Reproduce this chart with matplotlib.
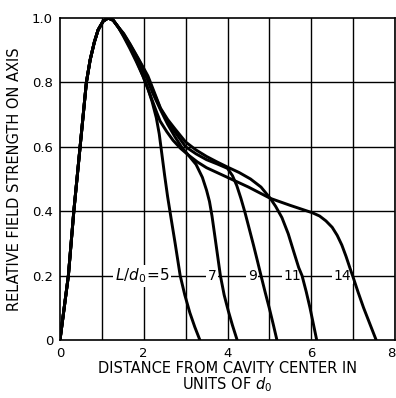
import matplotlib
matplotlib.use("Agg")
import matplotlib.pyplot as plt

# rising part is shared by all the curves
rise_x = [0, 0.1, 0.2, 0.33, 0.48, 0.63, 0.72, 0.82, 0.91, 1.03, 1.15, 1.27, 1.39]
rise_y = [0, 0.1, 0.2, 0.4, 0.6, 0.8, 0.87, 0.925, 0.963, 0.99, 1.0, 0.993, 0.972]

# falling part, one per cavity length L/d0
fall_x_5 = [1.52, 1.67, 1.82, 1.98, 2.1, 2.2, 2.3, 2.37, 2.43, 2.5, 2.57, 2.65, 2.75, 2.87,
            2.98, 3.1, 3.22, 3.34]
fall_y_5 = [0.945, 0.91, 0.87, 0.82, 0.78, 0.74, 0.69, 0.64, 0.58, 0.51, 0.445, 0.38, 0.3,
            0.2, 0.14, 0.085, 0.04, 0]

fall_x_7 = [1.52, 1.67, 1.85, 2.05, 2.22, 2.4, 2.57, 2.75, 2.9, 3.06, 3.25, 3.4, 3.5, 3.57,
            3.63, 3.69, 3.76, 3.83, 3.92, 4.02, 4.12, 4.23]
fall_y_7 = [0.948, 0.915, 0.87, 0.82, 0.765, 0.715, 0.67, 0.63, 0.6, 0.575, 0.545, 0.505,
            0.465, 0.43, 0.385, 0.33, 0.265, 0.2, 0.14, 0.09, 0.045, 0]

fall_x_9 = [1.52, 1.67, 1.87, 2.08, 2.24, 2.4, 2.57, 2.75, 3.0, 3.25, 3.5, 3.75, 4.0, 4.12,
            4.22, 4.32, 4.42, 4.52, 4.62, 4.71, 4.8, 4.9, 5.0, 5.09, 5.18]
fall_y_9 = [0.95, 0.918, 0.872, 0.82, 0.768, 0.718, 0.68, 0.645, 0.6, 0.578, 0.56, 0.547,
            0.533, 0.51, 0.48, 0.44, 0.395, 0.345, 0.295, 0.248, 0.2, 0.148, 0.098, 0.05, 0]

fall_x_11 = [1.52, 1.67, 1.88, 2.1, 2.25, 2.4, 2.57, 2.75, 3.0, 3.25, 3.5, 3.75, 4.0, 4.28,
             4.55, 4.8, 5.02, 5.15, 5.3, 5.45, 5.58, 5.7, 5.78, 5.88, 5.97, 6.05, 6.13]
fall_y_11 = [0.952, 0.92, 0.872, 0.82, 0.77, 0.72, 0.685, 0.655, 0.615, 0.59, 0.57, 0.553,
             0.537, 0.52, 0.5, 0.475, 0.44, 0.415, 0.38, 0.33, 0.275, 0.225, 0.2, 0.15, 0.1,
             0.05, 0]

fall_x_14 = [1.52, 1.67, 1.82, 1.98, 2.1, 2.2, 2.3, 2.39, 2.55, 2.7, 2.88, 3.06, 3.28, 3.5,
             3.75, 4.0, 4.5, 5.02, 5.5, 6.03, 6.2, 6.35, 6.5, 6.62, 6.73, 6.83, 6.92, 7.0,
             7.12, 7.25, 7.4, 7.55]
fall_y_14 = [0.942, 0.905, 0.865, 0.82, 0.78, 0.745, 0.71, 0.68, 0.647, 0.62, 0.595, 0.575,
             0.553, 0.535, 0.52, 0.505, 0.475, 0.44, 0.418, 0.395, 0.385, 0.37, 0.35, 0.325,
             0.295, 0.26, 0.225, 0.195, 0.148, 0.1, 0.05, 0]

curve_labels = [r"$\mathit{L}/\mathit{d}_0\!=\!5$", "7", "9", "11", "14"]
label_x = [1.96, 3.64, 4.59, 5.55, 6.75]
label_sizes = [11, 10, 10, 10, 10]
label_y = 0.2

xticks = [0, 2, 4, 6, 8]
yticks = [0, 0.2, 0.4, 0.6, 0.8, 1.0]
ytick_labels = ["0", "0.2", "0.4", "0.6", "0.8", "1.0"]

plt.rcParams["font.family"] = "DejaVu Sans"
plt.rcParams["mathtext.fontset"] = "dejavusans"

fig = plt.figure(figsize=(3.96, 3.98), dpi=100)
ax = fig.add_axes([60 / 396, 1 - 340 / 398, 335 / 396, 322 / 398])

falls = [(fall_x_5, fall_y_5), (fall_x_7, fall_y_7), (fall_x_9, fall_y_9),
         (fall_x_11, fall_y_11), (fall_x_14, fall_y_14)]
for fx, fy in falls:
    ax.plot(rise_x + fx, rise_y + fy, color="black", lw=2.1,
            solid_joinstyle="round", solid_capstyle="round", zorder=3)

# grid every unit / every 0.2
for gx in range(1, 9):
    ax.axvline(gx, color="black", lw=1.0, zorder=1)
for gy in [0.2, 0.4, 0.6, 0.8]:
    ax.axhline(gy, color="black", lw=1.0, zorder=1)

for txt, lx, fs in zip(curve_labels, label_x, label_sizes):
    ax.text(lx, label_y, txt, ha="center", va="center", fontsize=fs, zorder=2,
            bbox=dict(facecolor="white", edgecolor="none", pad=1.2))

ax.set_xlim(0, 8)
ax.set_ylim(0, 1.0)
ax.set_xticks(xticks)
ax.set_yticks(yticks)
ax.set_yticklabels(ytick_labels)
ax.tick_params(length=0, labelsize=9.5, pad=5)
# last x label sits right on the figure edge, pull it inside
ax.get_xticklabels()[-1].set_horizontalalignment("right")
for sp in ax.spines.values():
    sp.set_linewidth(1.2)

ax.set_xlabel("DISTANCE FROM CAVITY CENTER IN\nUNITS OF $d_0$", fontsize=10.5,
              linespacing=0.95, labelpad=1)
ax.set_ylabel("RELATIVE FIELD STRENGTH ON AXIS", fontsize=10.5, labelpad=7)

fig.savefig("out.png", dpi=100)
